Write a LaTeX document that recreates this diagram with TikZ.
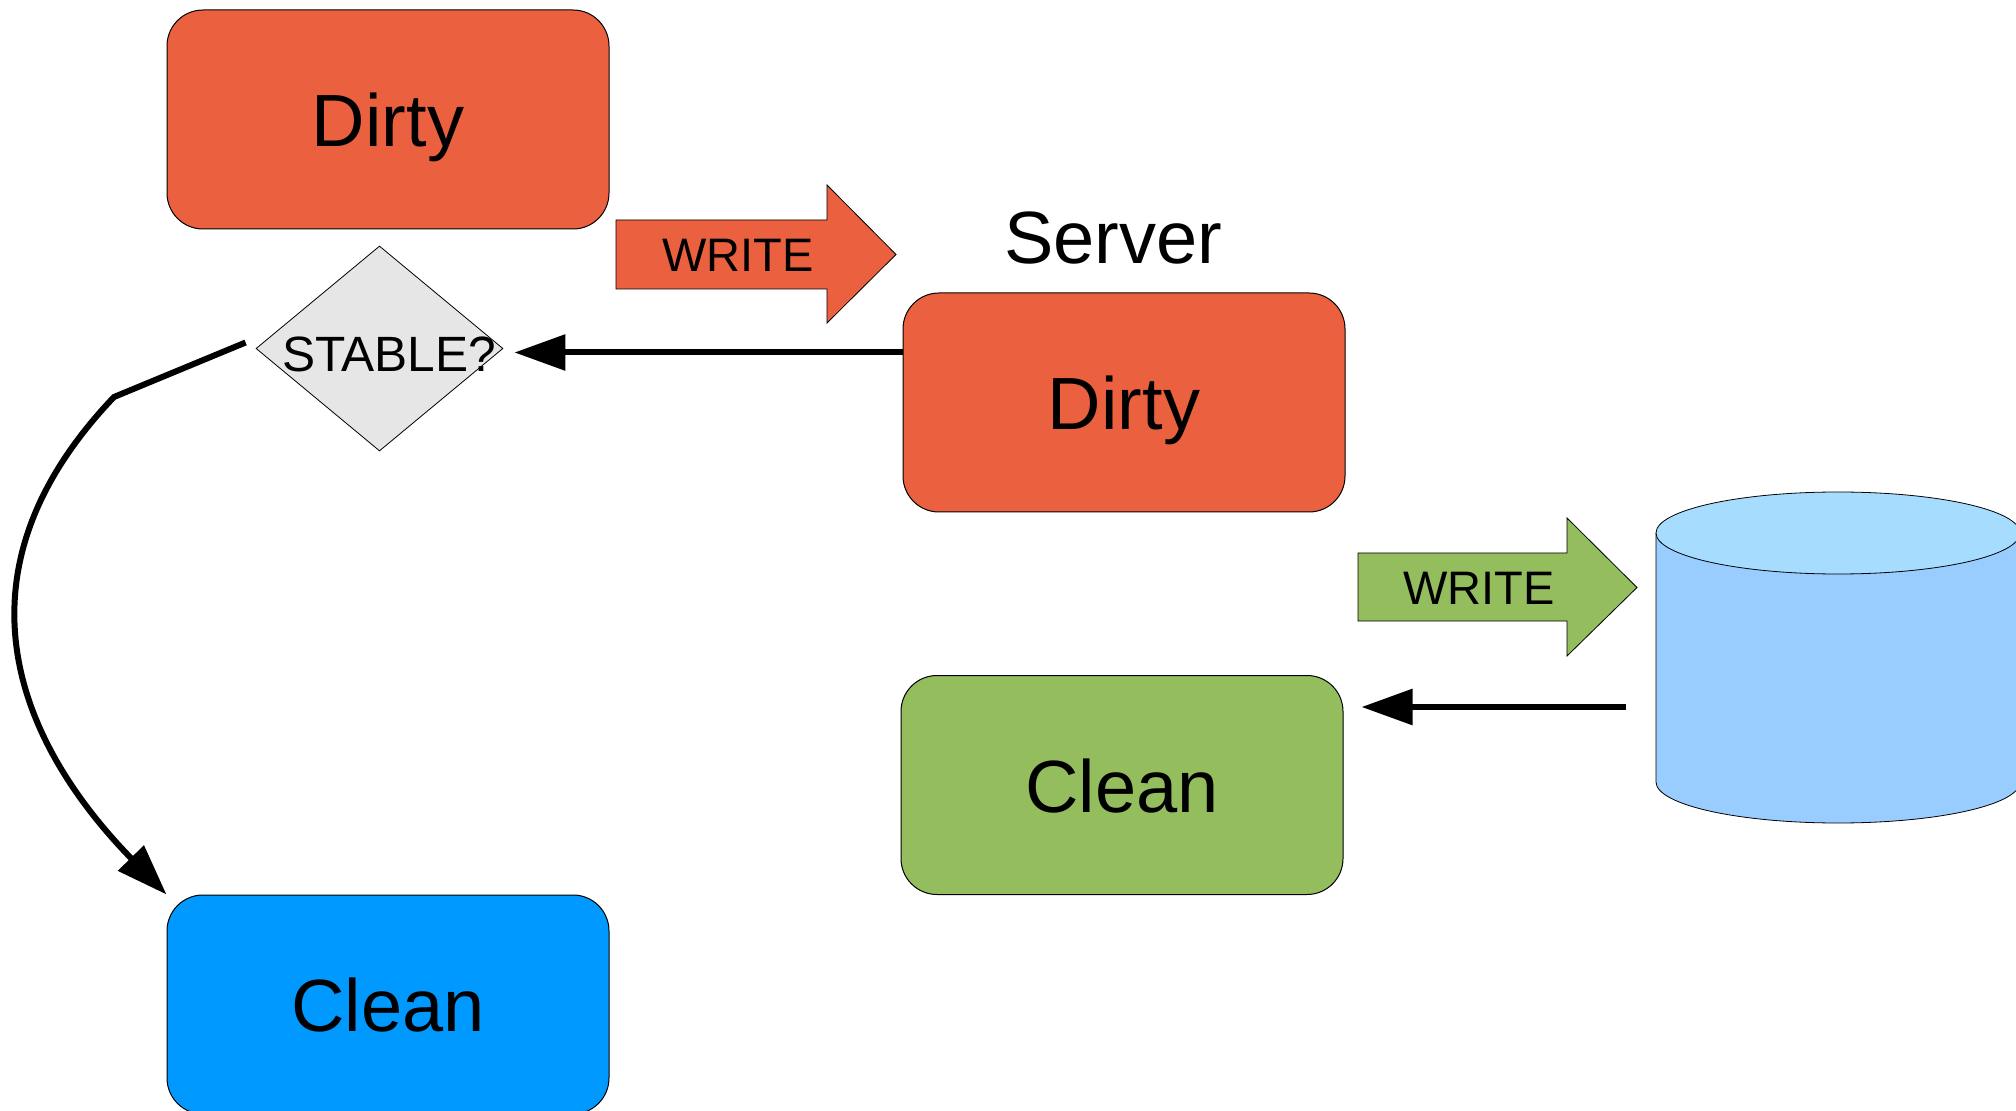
\documentclass[tikz,border=0pt]{standalone}
\usepackage{fontspec}
\setmainfont{Liberation Sans}
\usetikzlibrary{shapes.geometric,arrows.meta}

\definecolor{dirtyred}{RGB}{235,97,64}
\definecolor{cleangreen}{RGB}{148,189,94}
\definecolor{cleanblue}{RGB}{0,153,255}
\definecolor{dbside}{RGB}{153,204,255}
\definecolor{dbtop}{RGB}{166,221,255}
\definecolor{askgray}{RGB}{230,230,230}

\tikzset{
  state/.style={draw=black, line width=0.5pt, rounded corners=18pt, minimum width=221pt, minimum height=109.5pt, inner sep=0pt, text height=27pt, text depth=0pt, font=\fontsize{37}{44}\selectfont},
  decision/.style={draw=black, line width=0.4pt, fill=askgray, diamond, minimum width=123.5pt, minimum height=102.5pt, inner sep=0pt},
  blockarrow/.style={draw=black, line width=0.4pt},
  flow/.style={line width=3pt, -{Triangle[length=25.5pt,width=17.5pt]}},
}

\begin{document}
\begin{tikzpicture}[x=0.5pt,y=0.5pt,yscale=-1]
\useasboundingbox (0,0) rectangle (2016,1111);
\clip (0,0) rectangle (2016,1111);

%Shape: Rounded Rect
\node [state, fill=dirtyred] (dirtyC) at (388,119.5) {Dirty};
%Shape: Diamond
\node [decision, label={[font=\fontsize{24.8}{28}\selectfont, xshift=4.8pt, yshift=-3.2pt]center:STABLE?}] (stable) at (379.5,348.5) {};
%Shape: Rounded Rect
\node [state, fill=cleanblue] (cleanC) at (388,1004.5) {Clean};

%Shape: Right Arrow
\draw [blockarrow, fill=dirtyred] (616,220) -- (827,220) -- (827,185) -- (896,254.5) -- (827,323) -- (827,289) -- (616,289) -- cycle ;
% Text Node
\node [font=\fontsize{23.5}{28}\selectfont] (writeC) at (738,255) {WRITE};

% Text Node
\node [font=\fontsize{37}{44}\selectfont] (server) at (1113,238) {Server};
%Shape: Rounded Rect
\node [state, fill=dirtyred] (dirtyS) at (1124,402.5) {Dirty};
%Shape: Rounded Rect
\node [state, fill=cleangreen] (cleanS) at (1122,785) {Clean};

%Shape: Right Arrow
\draw [blockarrow, fill=cleangreen] (1358,553) -- (1567,553) -- (1567,518) -- (1637,587.5) -- (1567,656) -- (1567,621) -- (1358,621) -- cycle ;
% Text Node
\node [font=\fontsize{23.5}{28}\selectfont] (writeS) at (1479,588) {WRITE};

%Shape: Can
\draw [line width=0.4pt, fill=dbside] (1656,533) -- (1656,782) arc (180:0:182 and 41) -- (2020,533) ;
\draw [line width=0.4pt, fill=dbtop] (1838,533) ellipse (182 and 41) ;

% Connectors
\coordinate (srvout) at ([yshift=-25pt]dirtyS.west);
\coordinate (dbout) at (1626,707);
\coordinate (bend) at (114,397);
\draw [flow, shorten >=5.5pt] (srvout) -- (stable.east |- srvout) ;
\draw [flow, shorten >=9pt] (dbout) -- (cleanS.east |- dbout) ;
\draw [flow] ([xshift=-5pt,yshift=-3pt]stable.west) -- (bend) .. controls (-70,590) and (40,765) .. (cleanC.north west) ;

\end{tikzpicture}
\end{document}
